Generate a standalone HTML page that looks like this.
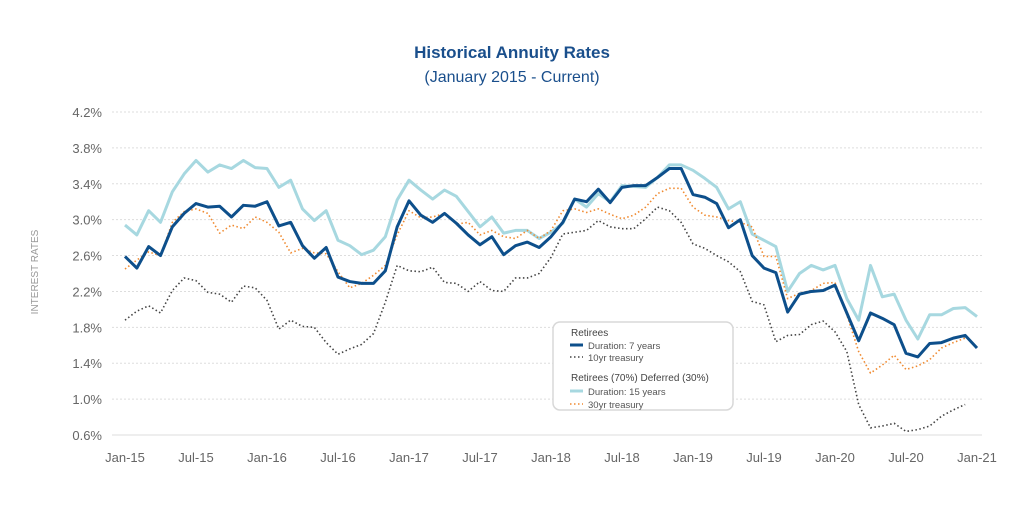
<!DOCTYPE html>
<html><head><meta charset="utf-8"><style>
body{margin:0;background:#fff;}
svg{display:block;font-family:"Liberation Sans",sans-serif;}
</style></head><body>
<svg id="chart" width="1024" height="512">
<text x="512" y="58" text-anchor="middle" font-size="17" font-weight="bold" fill="#1a4f8c">Historical Annuity Rates</text>
<text x="512" y="82" text-anchor="middle" font-size="16" fill="#1a4f8c">(January 2015 - Current)</text>
<text transform="translate(38,272) rotate(-90)" text-anchor="middle" font-size="10" fill="#999">INTEREST RATES</text>
<g id="grid"></g><g id="series"></g>
<g>
<rect x="553" y="322" width="180" height="88" rx="7" fill="#fff" stroke="#d8d8d8" stroke-width="1.5"/>
<text x="571" y="336" font-size="10" fill="#444">Retirees</text>
<line x1="570" y1="345" x2="583" y2="345" stroke="#0d4f8b" stroke-width="3"/>
<text x="588" y="349" font-size="9.5" fill="#555">Duration: 7 years</text>
<line x1="570" y1="357" x2="583" y2="357" stroke="#444" stroke-width="1.5" stroke-dasharray="1.5,2.5"/>
<text x="588" y="361" font-size="9.5" fill="#555">10yr treasury</text>
<text x="571" y="381" font-size="10" fill="#444">Retirees (70%) Deferred (30%)</text>
<line x1="570" y1="391" x2="583" y2="391" stroke="#a7d8e0" stroke-width="3"/>
<text x="588" y="395" font-size="9.5" fill="#555">Duration: 15 years</text>
<line x1="570" y1="404" x2="583" y2="404" stroke="#f08a30" stroke-width="1.5" stroke-dasharray="1.5,2.5"/>
<text x="588" y="408" font-size="9.5" fill="#555">30yr treasury</text>
</g>
</svg>
<script>
const yTicks=[0.6,1.0,1.4,1.8,2.2,2.6,3.0,3.4,3.8,4.2];
const xLabels=["Jan-15","Jul-15","Jan-16","Jul-16","Jan-17","Jul-17","Jan-18","Jul-18","Jan-19","Jul-19","Jan-20","Jul-20","Jan-21"];
const dur7=[2.59,2.46,2.70,2.60,2.92,3.07,3.18,3.14,3.15,3.03,3.16,3.15,3.20,2.93,2.97,2.71,2.57,2.69,2.36,2.31,2.29,2.29,2.43,2.92,3.21,3.05,2.97,3.07,2.96,2.83,2.72,2.81,2.61,2.71,2.75,2.69,2.81,2.97,3.23,3.20,3.34,3.19,3.36,3.38,3.38,3.47,3.57,3.57,3.28,3.25,3.18,2.91,3.00,2.60,2.46,2.41,1.97,2.17,2.20,2.21,2.27,1.96,1.65,1.96,1.90,1.83,1.51,1.47,1.62,1.63,1.68,1.71,1.57];
const dur15=[2.94,2.83,3.10,2.97,3.31,3.51,3.66,3.53,3.61,3.57,3.66,3.58,3.57,3.36,3.44,3.12,2.99,3.10,2.77,2.71,2.61,2.66,2.81,3.22,3.44,3.33,3.23,3.33,3.26,3.09,2.92,3.03,2.85,2.88,2.88,2.79,2.86,2.96,3.23,3.14,3.29,3.20,3.38,3.37,3.36,3.47,3.61,3.61,3.55,3.46,3.36,3.12,3.20,2.84,2.77,2.70,2.20,2.40,2.49,2.44,2.49,2.12,1.88,2.49,2.14,2.17,1.88,1.67,1.94,1.94,2.01,2.02,1.92];
const t30=[2.45,2.55,2.64,2.60,2.97,3.09,3.12,3.07,2.85,2.94,2.90,3.03,2.97,2.86,2.63,2.68,2.63,2.62,2.42,2.24,2.29,2.38,2.49,2.83,3.10,3.02,3.03,3.07,2.95,2.97,2.83,2.88,2.81,2.79,2.88,2.79,2.88,3.10,3.12,3.08,3.12,3.06,3.01,3.05,3.14,3.29,3.35,3.35,3.14,3.05,3.03,2.99,2.97,2.92,2.59,2.59,2.12,2.18,2.21,2.29,2.30,1.94,1.53,1.29,1.38,1.49,1.33,1.37,1.44,1.57,1.63,1.68];
const t10=[1.88,1.98,2.04,1.96,2.21,2.35,2.32,2.19,2.17,2.08,2.26,2.24,2.10,1.78,1.88,1.81,1.80,1.63,1.50,1.56,1.61,1.73,2.08,2.49,2.43,2.42,2.47,2.30,2.29,2.20,2.31,2.21,2.20,2.35,2.35,2.40,2.58,2.84,2.86,2.88,2.99,2.92,2.90,2.90,3.01,3.14,3.10,2.97,2.73,2.68,2.60,2.53,2.42,2.09,2.05,1.64,1.71,1.72,1.83,1.87,1.75,1.53,0.94,0.68,0.70,0.73,0.64,0.66,0.70,0.81,0.88,0.94];
const NS="http://www.w3.org/2000/svg";
const X=i=>125+i*(852/72);
const Y=v=>435-(v-0.6)*(323/3.6);
const grid=document.getElementById('grid'),ser=document.getElementById('series');
function mk(tag,attrs,parent){const e=document.createElementNS(NS,tag);for(const k in attrs)e.setAttribute(k,attrs[k]);parent.appendChild(e);return e;}
yTicks.forEach((t,k)=>{
  const l=mk('line',{x1:112,x2:982,y1:Y(t),y2:Y(t),stroke:k===0?'#ddd':'#ddd','stroke-width':1,'stroke-dasharray':k===0?'':'2,2'},grid);
  
  
  const tx=mk('text',{x:102,y:Y(t)+5,'text-anchor':'end','font-size':13,fill:'#666'},grid);
  tx.textContent=t.toFixed(1)+'%';
  
  
});
xLabels.forEach((s,k)=>{
  const tx=mk('text',{x:X(k*6),y:462,'text-anchor':'middle','font-size':13,fill:'#666'},grid);
  tx.textContent=s;
  
  
});
function line(data,color,w,dash,name){
  const p=mk('polyline',{points:data.map((v,i)=>X(i)+','+Y(v)).join(' '),fill:'none',stroke:color,'stroke-width':w,'stroke-linejoin':'round','stroke-dasharray':dash},ser);
  
  
}
line(t10,'#444',1.6,'1.5,2.5','line-10yr-treasury');
line(dur15,'#a7d8e0',3,'','line-duration-15');
line(t30,'#f08a30',1.6,'1.5,2.5','line-30yr-treasury');
line(dur7,'#0d4f8b',3,'','line-duration-7');
</script>
</body></html>
